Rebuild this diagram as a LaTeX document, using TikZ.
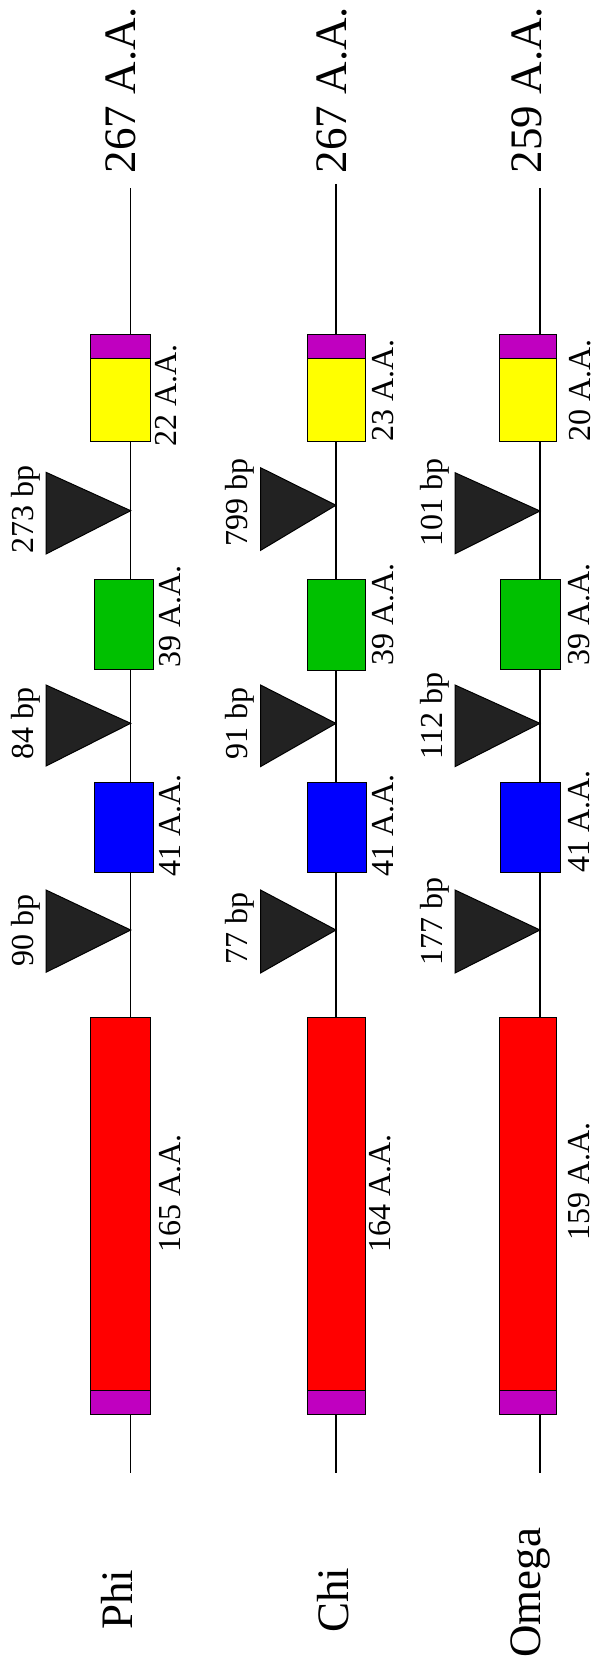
\documentclass[tikz,border=0pt]{standalone}
\usepackage{fontspec}
\setmainfont{Liberation Serif}
\definecolor{mag}{HTML}{C000C0}
\definecolor{grn}{HTML}{00C000}
\definecolor{blu}{HTML}{0000FF}
\definecolor{rd}{HTML}{FF0000}
\definecolor{yel}{HTML}{FFFF00}
\definecolor{dark}{HTML}{222222}
\newcommand{\genebox}[6]{\node[gbox, fill=#6, minimum width={(#4-#2)*1pt}, minimum height={(#5-#3)*1pt}] (#1) at (#2,-#3) {};}
\newcommand{\intron}[6]{\filldraw[tri] (#2,-#3) coordinate (#1) -- (#4,-#5) -- (#4,-#6) -- cycle;}
\tikzset{
  gbox/.style={draw=black, line width=1pt, inner sep=0pt, outer sep=0pt, anchor=north west, rectangle},
  tri/.style={fill=dark, draw=black, line width=1pt, line join=miter},
  backbone/.style={draw=black, line width=1.3pt},
  lbl/.style={rotate=90, anchor=base west, inner sep=0pt, font=\fontsize{32}{36}\selectfont},
  biglbl/.style={rotate=90, anchor=base west, inner sep=0pt, font=\fontsize{45}{50}\selectfont}
}
\begin{document}
\begin{tikzpicture}[x=1pt,y=1pt]
\useasboundingbox (0,0) rectangle (597,-1661);
% ---------- Phi ----------
\coordinate (phiTop) at (130.7,-188.3);
\coordinate (phiBot) at (130.7,-1472.7);
\draw[backbone] (phiTop) -- (phiBot);
\genebox{phiM1}{90.5}{334.3}{150.3}{358.7}{mag}
\genebox{phiY}{90.5}{358.7}{150.3}{441.7}{yel}
\genebox{phiG}{94.3}{579.3}{153.7}{669}{grn}
\genebox{phiB}{94.3}{782.7}{153.7}{872.3}{blu}
\genebox{phiR}{90.5}{1017.7}{150.3}{1390.7}{rd}
\genebox{phiM2}{90.5}{1390.7}{150.3}{1414.3}{mag}
\intron{phiT1}{130.7}{510.7}{46}{472.3}{554}
\intron{phiT2}{130.7}{723.3}{46}{685}{766}
\intron{phiT3}{130.7}{930}{46}{890}{972.3}
\node[biglbl] (phiLen) at (135,-173.3) {267 A.A.};
\node[biglbl] (phiName) at (132.7,-1630) {Phi};
\node[lbl] (phiI1) at (33.3,-553.3) {273 bp};
\node[lbl] (phiI2) at (33.3,-760) {84 bp};
\node[lbl] (phiI3) at (33.3,-966.7) {90 bp};
\node[lbl] (phiE1) at (176.7,-446.5) {22 A.A.};
\node[lbl] (phiE2) at (180,-668) {39 A.A.};
\node[lbl] (phiE3) at (180,-876.5) {41 A.A.};
\node[lbl] (phiE4) at (180,-1252.7) {165 A.A.};
% ---------- Chi ----------
\coordinate (chiTop) at (336,-184);
\coordinate (chiBot) at (336,-1472.7);
\draw[backbone] (chiTop) -- (chiBot);
\genebox{chiM1}{307}{334.3}{365}{358.7}{mag}
\genebox{chiY}{307}{358.7}{365}{441.7}{yel}
\genebox{chiG}{307}{579.3}{365}{670}{grn}
\genebox{chiB}{307}{782.7}{366}{872.5}{blu}
\genebox{chiR}{307}{1017.7}{365}{1390.7}{rd}
\genebox{chiM2}{307}{1390.7}{365}{1414.3}{mag}
\intron{chiT1}{336}{505.2}{260.5}{467.7}{550.4}
\intron{chiT2}{336}{723.4}{260.5}{685}{766.6}
\intron{chiT3}{336}{930}{260.5}{890}{973}
\node[biglbl] (chiLen) at (346.7,-173.3) {267 A.A.};
\node[biglbl] (chiName) at (348.3,-1633) {Chi};
\node[lbl] (chiI1) at (247.7,-546.6) {799 bp};
\node[lbl] (chiI2) at (247.7,-759.7) {91 bp};
\node[lbl] (chiI3) at (247.7,-964.5) {77 bp};
\node[lbl] (chiE1) at (393.3,-442) {23 A.A.};
\node[lbl] (chiE2) at (393.5,-666) {39 A.A.};
\node[lbl] (chiE3) at (393.3,-876.5) {41 A.A.};
\node[lbl] (chiE4) at (390.7,-1253) {164 A.A.};
% ---------- Omega ----------
\coordinate (omeTop) at (540,-188.3);
\coordinate (omeBot) at (540,-1472.7);
\draw[backbone] (omeTop) -- (omeBot);
\genebox{omeM1}{499}{334.3}{556.7}{358.7}{mag}
\genebox{omeY}{499}{358.7}{556.7}{441.7}{yel}
\genebox{omeG}{500.7}{579.3}{560}{669}{grn}
\genebox{omeB}{500.7}{782.7}{560}{872.3}{blu}
\genebox{omeR}{499}{1017.7}{556.7}{1390.7}{rd}
\genebox{omeM2}{499}{1390.7}{556.7}{1414.3}{mag}
\intron{omeT1}{540}{511}{455}{472.7}{553.8}
\intron{omeT2}{540}{723.4}{455}{685}{766.6}
\intron{omeT3}{540}{930}{455}{890}{973}
\node[biglbl] (omeLen) at (541.7,-173.3) {259 A.A.};
\node[biglbl] (omeName) at (540,-1658) {Omega};
\node[lbl] (omeI1) at (442.6,-546.6) {101 bp};
\node[lbl] (omeI2) at (442.6,-759.7) {112 bp};
\node[lbl] (omeI3) at (442.6,-965.6) {177 bp};
\node[lbl] (omeE1) at (590,-442) {20 A.A.};
\node[lbl] (omeE2) at (589.3,-666) {39 A.A.};
\node[lbl] (omeE3) at (589.3,-872.6) {41 A.A.};
\node[lbl] (omeE4) at (589.3,-1240.5) {159 A.A.};
\end{tikzpicture}
\end{document}
